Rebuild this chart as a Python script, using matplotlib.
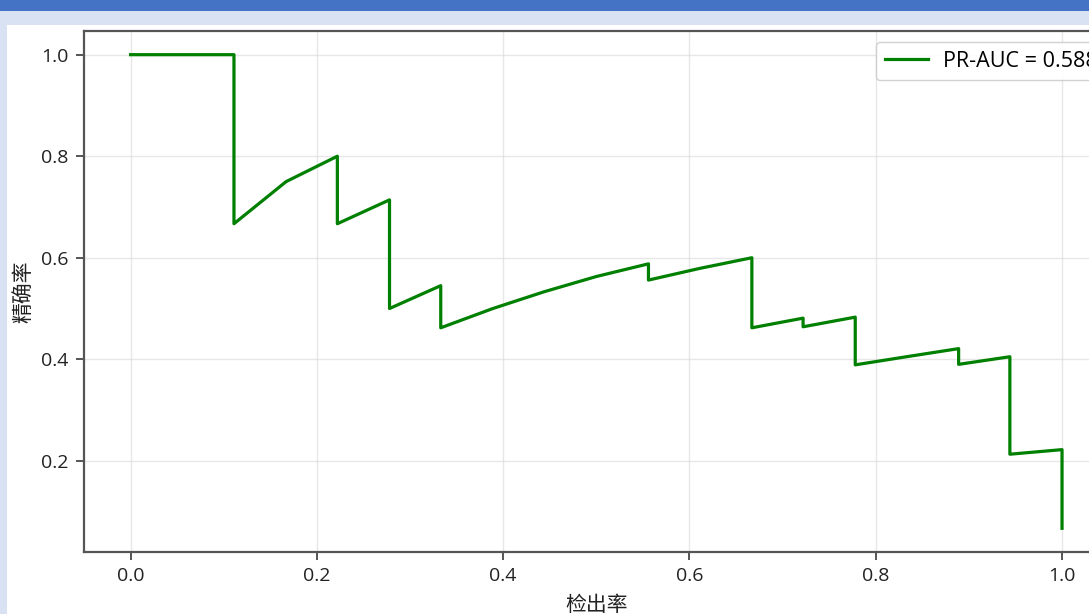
import matplotlib
matplotlib.use("Agg")
import matplotlib.pyplot as plt
from matplotlib.patches import Rectangle

plt.rcParams['font.family'] = ['Open Sans', 'Noto Sans CJK SC', 'DejaVu Sans']
plt.rcParams['font.size'] = 14

# Precision-recall curve points (recall, precision), in threshold order
recall = [0.0, 0.111, 0.111, 0.167, 0.222, 0.222, 0.278, 0.278, 0.333, 0.333,
          0.389, 0.444, 0.5, 0.556, 0.556, 0.611, 0.667, 0.667, 0.722, 0.722,
          0.778, 0.778, 0.833, 0.889, 0.889, 0.944, 0.944, 1.0, 1.0]
precision = [1.0, 1.0, 0.667, 0.75, 0.8, 0.667, 0.714, 0.5, 0.545, 0.462,
             0.5, 0.533, 0.563, 0.588, 0.556, 0.579, 0.6, 0.462, 0.481, 0.464,
             0.483, 0.389, 0.405, 0.421, 0.390, 0.405, 0.213, 0.222, 0.067]
pr_auc = 0.588

x_label = "检出率"
y_label = "精确率"

W, H = 1089, 614
fig = plt.figure(figsize=(W / 100, H / 100), dpi=100)
fig.patch.set_facecolor("#D9E2F3")

# slide header bar and white chart panel
fig.add_artist(Rectangle((0, 1 - 11 / H), 1, 11 / H, transform=fig.transFigure,
                         facecolor="#4472C4", edgecolor="none", zorder=0))
fig.add_artist(Rectangle((7 / W, 0), 1, 1 - 25 / H, transform=fig.transFigure,
                         facecolor="white", edgecolor="none", zorder=0))

ax = fig.add_axes([84 / W, (H - 552) / H, (1108.6 - 84) / W, (552 - 31) / H])
ax.set_facecolor("white")
ax.plot(recall, precision, color="#008000", linewidth=2.3,
        label=f"PR-AUC = {pr_auc:.3f}")
ax.grid(True, color="#d8d8d8", linewidth=1.0, alpha=0.6)
ax.set_xticks([0.0, 0.2, 0.4, 0.6, 0.8, 1.0])
ax.set_yticks([0.2, 0.4, 0.6, 0.8, 1.0])
for s in ax.spines.values():
    s.set_color("#555555")
    s.set_linewidth(1.6)
ax.tick_params(colors="#555555", labelcolor="#222222", width=1.4, length=6,
               labelsize=14, pad=5)
ax.set_xlabel(x_label, fontsize=15, color="#222222", labelpad=7)
ax.set_ylabel(y_label, fontsize=15, color="#222222", labelpad=5)
ax.legend(loc="upper left", bbox_to_anchor=(876 / W, 1 - 42 / H),
          bbox_transform=fig.transFigure, borderaxespad=0,
          fontsize=15.5, handlelength=2.0, handletextpad=0.7,
          edgecolor="#cccccc", framealpha=0.9)

fig.savefig("out.png", dpi=100, facecolor=fig.get_facecolor())
